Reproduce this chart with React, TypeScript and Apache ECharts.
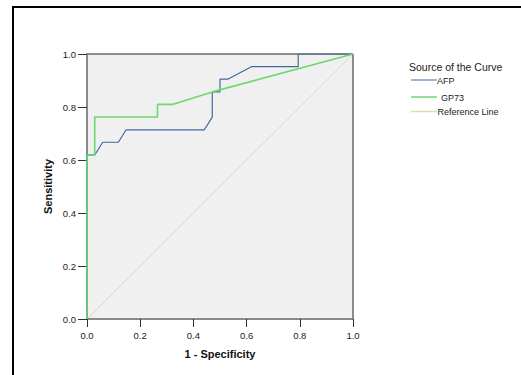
import React, { useEffect, useRef } from "react";
import * as echarts from "echarts";

const xTicks = [0, 0.2, 0.4, 0.6, 0.8, 1.0];
const afpFpr = [0, 0, 0.029, 0.059, 0.118, 0.147, 0.441, 0.471, 0.471, 0.5, 0.5, 0.529, 0.618, 0.794, 0.794, 1];
const afpTpr = [0, 0.619, 0.619, 0.667, 0.667, 0.714, 0.714, 0.762, 0.857, 0.857, 0.905, 0.905, 0.952, 0.952, 1, 1];
const gpFpr = [0, 0, 0.029, 0.029, 0.265, 0.265, 0.324, 0.471, 1];
const gpTpr = [0, 0.619, 0.619, 0.762, 0.762, 0.81, 0.81, 0.857, 1];
const refFpr = [0, 1];
const refTpr = [0, 1];
const legendTitle = "Source of the Curve";
const seriesNames = ["AFP", "GP73", "Reference Line"];

const AFP_COLOR = "#3f6aa3";
const GP_COLOR = "#6fd86f";
const REF_COLOR = "#dcdcb8";

const zip = (a: number[], b: number[]) => a.map((v, i) => [v, b[i]]);

export default function App() {
  const ref = useRef<HTMLDivElement>(null);
  useEffect(() => {
    const chart = echarts.init(ref.current!, null, { renderer: "svg" });
    const font = "Liberation Sans, Arial, sans-serif";
    chart.setOption({
      animation: false,
      backgroundColor: "#fff",
      grid: {
        left: 87,
        top: 54,
        right: 168,
        bottom: 56,
        show: true,
        backgroundColor: "#f0f0f0",
        borderColor: "#222",
        borderWidth: 1,
      },
      xAxis: {
        type: "value",
        min: 0,
        max: 1,
        interval: 0.2,
        splitLine: { show: false },
        axisLine: { show: true, onZero: false, lineStyle: { color: "#8a8a8a", width: 2 } },
        axisTick: { show: true, inside: false, length: 8, lineStyle: { color: "#333", width: 1 } },
        axisLabel: {
          color: "#222",
          fontSize: 9.5,
          fontFamily: font,
          margin: 11,
          formatter: (v: number) => v.toFixed(1),
        },
        name: "1 - Specificity",
        nameLocation: "middle",
        nameGap: 29,
        nameMoveOverlap: false,
        nameTextStyle: { color: "#111", fontSize: 11, fontWeight: "bold", fontFamily: font },
      },
      yAxis: {
        type: "value",
        min: 0,
        max: 1,
        interval: 0.2,
        splitLine: { show: false },
        axisLine: { show: true, onZero: false, lineStyle: { color: "#8a8a8a", width: 2 } },
        axisTick: { show: true, inside: false, length: 9, lineStyle: { color: "#333", width: 1 } },
        axisLabel: {
          color: "#222",
          fontSize: 9.5,
          fontFamily: font,
          margin: 11,
          formatter: (v: number) => v.toFixed(1),
        },
        name: "Sensitivity",
        nameLocation: "middle",
        nameGap: 34,
        nameMoveOverlap: false,
        nameTextStyle: { color: "#111", fontSize: 11, fontWeight: "bold", fontFamily: font },
      },
      series: [
        {
          name: seriesNames[2],
          type: "line",
          data: zip(refFpr, refTpr),
          showSymbol: false,
          lineStyle: { color: REF_COLOR, width: 1 },
          z: 2,
        },
        {
          name: seriesNames[0],
          type: "line",
          data: zip(afpFpr, afpTpr),
          showSymbol: false,
          lineStyle: { color: AFP_COLOR, width: 1.2 },
          z: 3,
        },
        {
          name: seriesNames[1],
          type: "line",
          data: zip(gpFpr, gpTpr),
          showSymbol: false,
          lineStyle: { color: GP_COLOR, width: 1.6 },
          z: 4,
        },
      ],
      graphic: [
        {
          type: "rect",
          shape: { x: 13, y: 7, width: 700, height: 600 },
          style: { fill: "none", stroke: "#000", lineWidth: 2 },
          silent: true,
        },
        {
          type: "text",
          x: 409,
          y: 67,
          style: {
            text: legendTitle,
            fontSize: 10.5,
            fontFamily: font,
            fill: "#222",
            verticalAlign: "middle",
          },
        },
        { type: "line", shape: { x1: 411, y1: 80, x2: 437, y2: 80 }, style: { stroke: AFP_COLOR, lineWidth: 1 } },
        {
          type: "text",
          x: 437,
          y: 80.5,
          style: { text: seriesNames[0], fontSize: 9, fontFamily: font, fill: "#222", verticalAlign: "middle" },
        },
        { type: "line", shape: { x1: 411, y1: 97, x2: 437, y2: 97 }, style: { stroke: GP_COLOR, lineWidth: 1.5 } },
        {
          type: "text",
          x: 441,
          y: 97.5,
          style: { text: seriesNames[1], fontSize: 9, fontFamily: font, fill: "#222", verticalAlign: "middle" },
        },
        { type: "line", shape: { x1: 411, y1: 111.5, x2: 437, y2: 111.5 }, style: { stroke: REF_COLOR, lineWidth: 1.5 } },
        {
          type: "text",
          x: 437.5,
          y: 111.5,
          style: { text: seriesNames[2], fontSize: 9, fontFamily: font, fill: "#222", verticalAlign: "middle" },
        },
      ],
    });
    return () => chart.dispose();
  }, []);
  return (
    <div
      ref={ref}
      style={{ position: "absolute", left: 0, top: 0, width: 521, height: 375 }}
    />
  );
}
